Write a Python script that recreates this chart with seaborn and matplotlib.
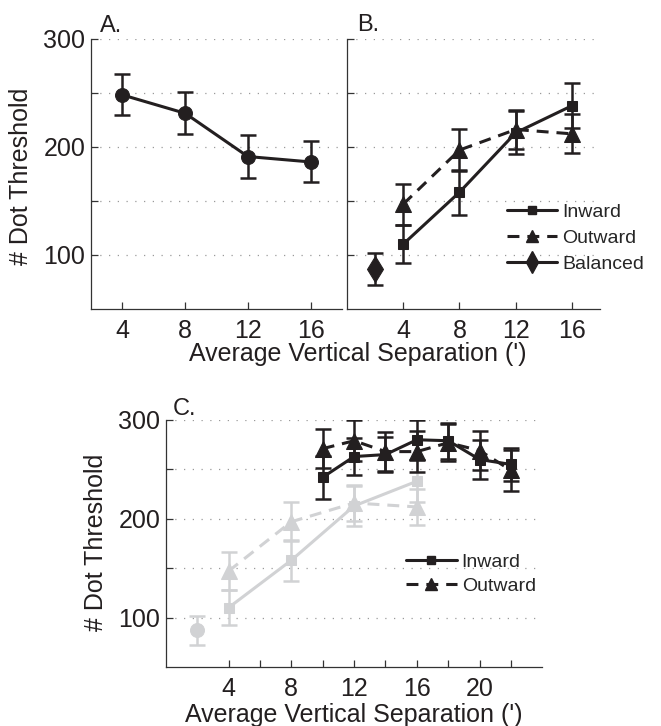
import matplotlib
matplotlib.use('Agg')
import matplotlib.pyplot as plt
from matplotlib.lines import Line2D
import seaborn as sns

# panel A: one condition
sep_a = [4, 8, 12, 16]
thr_a = [248, 231, 191, 186]
err_a = [19, 19.5, 20, 19]

# panel B: inward / outward / balanced
sep_b = [4, 8, 12, 16]
inward_b = [110, 158, 213, 238]
inward_b_err = [17.5, 21, 20, 21]
outward_b = [147, 197, 216, 212]
outward_b_err = [19, 19.5, 18, 18]
sep_bal = [2]
balanced = [87]
balanced_err = [14.5]

# panel C: larger separations (panel B repeated in grey)
sep_c = [10, 12, 14, 16, 18, 20, 22]
inward_c = [242, 263, 265, 280, 279, 260, 255]
inward_c_err = [22, 19, 18, 20, 18, 20, 17]
outward_c = [271, 279, 268, 268, 277, 269, 249]
outward_c_err = [20, 21, 20, 21, 19, 20, 21]

ytick_vals = [100, 150, 200, 250, 300]
ytick_labs = ['100', '', '200', '', '300']

BLACK = '#231f20'
GREY = '#d1d2d4'
DASH = (0, (3.9, 2.6))
XLAB = "Average Vertical Separation (')"
YLAB = '# Dot Threshold'

sns.set_theme(style='white')
plt.rcParams['font.family'] = ['Liberation Sans', 'DejaVu Sans']


def series(ax, x, y, err, color, marker, ms, ls='-'):
    ax.errorbar(x, y, yerr=err, fmt='none', ecolor=color, elinewidth=1.8,
                capsize=6, capthick=1.8, zorder=3)
    sns.lineplot(x=x, y=y, ax=ax, color=color, marker=marker, markersize=ms,
                 markeredgecolor=color, linestyle=ls, linewidth=2.2,
                 errorbar=None, zorder=4)


def style(ax, xlim, xticks, xlabs, ylabels=True):
    ax.set_xlim(*xlim)
    ax.set_ylim(50, 300)
    ax.set_xticks(xticks)
    ax.set_xticklabels(xlabs)
    ax.set_yticks(ytick_vals)
    ax.set_yticklabels(ytick_labs if ylabels else [''] * 5)
    for s in ['top', 'right']:
        ax.spines[s].set_visible(False)
    for s in ['left', 'bottom']:
        ax.spines[s].set_color('#333333')
        ax.spines[s].set_linewidth(0.9)
    ax.tick_params(axis='both', direction='in', length=5, width=0.9,
                   color='#333333', labelsize=18, labelcolor=BLACK,
                   bottom=True, left=True)
    ax.tick_params(axis='x', pad=7)
    ax.tick_params(axis='y', pad=4)
    ax.grid(axis='y', color='#9a9a9a', linestyle=(0, (1, 6)), linewidth=0.9)
    ax.grid(axis='x', visible=False)
    ax.set_axisbelow(True)
    ax.set_xlabel('')
    ax.set_ylabel('')


fig = plt.figure(figsize=(6.61, 7.26), dpi=100)
ax_a = fig.add_axes([0.1377, 0.5744, 0.3797, 0.3723])
ax_b = fig.add_axes([0.5250, 0.5744, 0.3828, 0.3723])
ax_c = fig.add_axes([0.2507, 0.0813, 0.5700, 0.3402])

# A
series(ax_a, sep_a, thr_a, err_a, BLACK, 'o', 10)
style(ax_a, (2, 18), [4, 8, 12, 16], ['4', '8', '12', '16'])
ax_a.set_ylabel(YLAB, fontsize=18, color=BLACK)
ax_a.yaxis.set_label_coords(-0.231, 0.49)

# B
series(ax_b, sep_b, inward_b, inward_b_err, BLACK, 's', 7)
series(ax_b, sep_b, outward_b, outward_b_err, BLACK, '^', 11, DASH)
series(ax_b, sep_bal, balanced, balanced_err, BLACK, 'd', 13)
style(ax_b, (0, 18), [4, 8, 12, 16], ['4', '8', '12', '16'], ylabels=False)

leg_b = [
    Line2D([], [], color=BLACK, lw=2.2, marker='s', ms=6, label='Inward'),
    Line2D([], [], color=BLACK, lw=2.2, ls=DASH, marker='^', ms=9, label='Outward'),
    Line2D([], [], color=BLACK, lw=2.2, marker='d', ms=11, label='Balanced'),
]
ax_b.legend(handles=leg_b, loc='center left', bbox_to_anchor=(0.632, 0.2627),
            frameon=False, fontsize=14, handlelength=2.6, handletextpad=0.26,
            labelspacing=0.42, borderpad=0, borderaxespad=0)

fig.text(358 / 661, 1 - 361 / 726, XLAB, ha='center', va='baseline',
         fontsize=18, color=BLACK)

# C
series(ax_c, sep_b, inward_b, inward_b_err, GREY, 's', 7)
series(ax_c, sep_b, outward_b, outward_b_err, GREY, '^', 11, DASH)
series(ax_c, sep_bal, balanced, balanced_err, GREY, 'o', 10)
series(ax_c, sep_c, inward_c, inward_c_err, BLACK, 's', 7)
series(ax_c, sep_c, outward_c, outward_c_err, BLACK, '^', 11, DASH)
style(ax_c, (0, 24), list(range(4, 23, 2)),
      ['4', '', '8', '', '12', '', '16', '', '20', ''])
ax_c.set_ylabel(YLAB, fontsize=18, color=BLACK)
ax_c.yaxis.set_label_coords(-0.154, 0.504)
ax_c.set_xlabel(XLAB, fontsize=18, color=BLACK, labelpad=2)

leg_c = leg_b[:2]
ax_c.legend(handles=leg_c, loc='center left', bbox_to_anchor=(0.638, 0.3757),
            frameon=False, fontsize=14, handlelength=2.6, handletextpad=0.26,
            labelspacing=0.36, borderpad=0, borderaxespad=0)

fig.text(100 / 661, 1 - 32 / 726, 'A.', fontsize=17, color=BLACK, va='baseline')
fig.text(357 / 661, 1 - 31 / 726, 'B.', fontsize=17, color=BLACK, va='baseline')
fig.text(173 / 661, 1 - 415 / 726, 'C.', fontsize=17, color=BLACK, va='baseline')

fig.savefig('out.png', dpi=100)
